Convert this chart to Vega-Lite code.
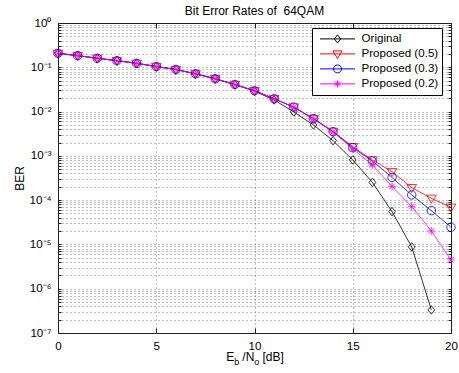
{
  "$schema": "https://vega.github.io/schema/vega-lite/v6.json",
  "width": 393,
  "height": 310,
  "autosize": {"type": "none"},
  "padding": {"left": 58, "top": 23, "right": 8, "bottom": 40},
  "background": "white",
  "config": {
    "font": "Liberation Sans",
    "view": {"stroke": null},
    "axis": {
      "labelFont": "Liberation Sans",
      "labelFontSize": 11.6,
      "labelColor": "#000",
      "titleFont": "Liberation Sans",
      "titleFontSize": 12,
      "titleFontWeight": "normal",
      "titleColor": "#000",
      "domainColor": "#222",
      "domainWidth": 1,
      "tickColor": "#222",
      "tickWidth": 1,
      "gridColor": "#000",
      "gridOpacity": 0.5,
      "gridDash": [1, 3],
      "gridWidth": 1,
      "labelOverlap": false,
      "labelFlush": false
    }
  },
  "title": {
    "text": "Bit Error Rates of \u00a064QAM",
    "font": "Liberation Sans",
    "fontSize": 12,
    "fontWeight": "normal",
    "color": "#000",
    "baseline": "alphabetic",
    "offset": -10,
    "anchor": "middle"
  },
  "data": {
    "values": [
      {"snr": 0, "ber": 0.207, "scheme": "Original"},
      {"snr": 1, "ber": 0.183, "scheme": "Original"},
      {"snr": 2, "ber": 0.160, "scheme": "Original"},
      {"snr": 3, "ber": 0.141, "scheme": "Original"},
      {"snr": 4, "ber": 0.123, "scheme": "Original"},
      {"snr": 5, "ber": 0.104, "scheme": "Original"},
      {"snr": 6, "ber": 0.0891, "scheme": "Original"},
      {"snr": 7, "ber": 0.0713, "scheme": "Original"},
      {"snr": 8, "ber": 0.0550, "scheme": "Original"},
      {"snr": 9, "ber": 0.0405, "scheme": "Original"},
      {"snr": 10, "ber": 0.0290, "scheme": "Original"},
      {"snr": 11, "ber": 0.0183, "scheme": "Original"},
      {"snr": 12, "ber": 0.0098, "scheme": "Original"},
      {"snr": 13, "ber": 0.00499, "scheme": "Original"},
      {"snr": 14, "ber": 0.0022, "scheme": "Original"},
      {"snr": 15, "ber": 0.000808, "scheme": "Original"},
      {"snr": 16, "ber": 0.000252, "scheme": "Original"},
      {"snr": 17, "ber": 0.000055, "scheme": "Original"},
      {"snr": 18, "ber": 0.0000088, "scheme": "Original"},
      {"snr": 19, "ber": 0.000000332, "scheme": "Original"},

      {"snr": 0, "ber": 0.207, "scheme": "Proposed (0.5)"},
      {"snr": 1, "ber": 0.183, "scheme": "Proposed (0.5)"},
      {"snr": 2, "ber": 0.160, "scheme": "Proposed (0.5)"},
      {"snr": 3, "ber": 0.141, "scheme": "Proposed (0.5)"},
      {"snr": 4, "ber": 0.123, "scheme": "Proposed (0.5)"},
      {"snr": 5, "ber": 0.104, "scheme": "Proposed (0.5)"},
      {"snr": 6, "ber": 0.0891, "scheme": "Proposed (0.5)"},
      {"snr": 7, "ber": 0.0713, "scheme": "Proposed (0.5)"},
      {"snr": 8, "ber": 0.0550, "scheme": "Proposed (0.5)"},
      {"snr": 9, "ber": 0.0409, "scheme": "Proposed (0.5)"},
      {"snr": 10, "ber": 0.0296, "scheme": "Proposed (0.5)"},
      {"snr": 11, "ber": 0.0195, "scheme": "Proposed (0.5)"},
      {"snr": 12, "ber": 0.0127, "scheme": "Proposed (0.5)"},
      {"snr": 13, "ber": 0.00698, "scheme": "Proposed (0.5)"},
      {"snr": 14, "ber": 0.00356, "scheme": "Proposed (0.5)"},
      {"snr": 15, "ber": 0.00161, "scheme": "Proposed (0.5)"},
      {"snr": 16, "ber": 0.000808, "scheme": "Proposed (0.5)"},
      {"snr": 17, "ber": 0.00044, "scheme": "Proposed (0.5)"},
      {"snr": 18, "ber": 0.000191, "scheme": "Proposed (0.5)"},
      {"snr": 19, "ber": 0.00011, "scheme": "Proposed (0.5)"},
      {"snr": 20, "ber": 0.0000692, "scheme": "Proposed (0.5)"},

      {"snr": 0, "ber": 0.207, "scheme": "Proposed (0.3)"},
      {"snr": 1, "ber": 0.183, "scheme": "Proposed (0.3)"},
      {"snr": 2, "ber": 0.160, "scheme": "Proposed (0.3)"},
      {"snr": 3, "ber": 0.141, "scheme": "Proposed (0.3)"},
      {"snr": 4, "ber": 0.123, "scheme": "Proposed (0.3)"},
      {"snr": 5, "ber": 0.104, "scheme": "Proposed (0.3)"},
      {"snr": 6, "ber": 0.0891, "scheme": "Proposed (0.3)"},
      {"snr": 7, "ber": 0.0713, "scheme": "Proposed (0.3)"},
      {"snr": 8, "ber": 0.0550, "scheme": "Proposed (0.3)"},
      {"snr": 9, "ber": 0.0409, "scheme": "Proposed (0.3)"},
      {"snr": 10, "ber": 0.0296, "scheme": "Proposed (0.3)"},
      {"snr": 11, "ber": 0.0195, "scheme": "Proposed (0.3)"},
      {"snr": 12, "ber": 0.0126, "scheme": "Proposed (0.3)"},
      {"snr": 13, "ber": 0.0069, "scheme": "Proposed (0.3)"},
      {"snr": 14, "ber": 0.00352, "scheme": "Proposed (0.3)"},
      {"snr": 15, "ber": 0.00153, "scheme": "Proposed (0.3)"},
      {"snr": 16, "ber": 0.000767, "scheme": "Proposed (0.3)"},
      {"snr": 17, "ber": 0.000325, "scheme": "Proposed (0.3)"},
      {"snr": 18, "ber": 0.000131, "scheme": "Proposed (0.3)"},
      {"snr": 19, "ber": 0.0000579, "scheme": "Proposed (0.3)"},
      {"snr": 20, "ber": 0.0000245, "scheme": "Proposed (0.3)"},

      {"snr": 0, "ber": 0.207, "scheme": "Proposed (0.2)"},
      {"snr": 1, "ber": 0.183, "scheme": "Proposed (0.2)"},
      {"snr": 2, "ber": 0.160, "scheme": "Proposed (0.2)"},
      {"snr": 3, "ber": 0.141, "scheme": "Proposed (0.2)"},
      {"snr": 4, "ber": 0.123, "scheme": "Proposed (0.2)"},
      {"snr": 5, "ber": 0.104, "scheme": "Proposed (0.2)"},
      {"snr": 6, "ber": 0.0891, "scheme": "Proposed (0.2)"},
      {"snr": 7, "ber": 0.0713, "scheme": "Proposed (0.2)"},
      {"snr": 8, "ber": 0.0550, "scheme": "Proposed (0.2)"},
      {"snr": 9, "ber": 0.0409, "scheme": "Proposed (0.2)"},
      {"snr": 10, "ber": 0.0296, "scheme": "Proposed (0.2)"},
      {"snr": 11, "ber": 0.0195, "scheme": "Proposed (0.2)"},
      {"snr": 12, "ber": 0.0125, "scheme": "Proposed (0.2)"},
      {"snr": 13, "ber": 0.0068, "scheme": "Proposed (0.2)"},
      {"snr": 14, "ber": 0.00345, "scheme": "Proposed (0.2)"},
      {"snr": 15, "ber": 0.00143, "scheme": "Proposed (0.2)"},
      {"snr": 16, "ber": 0.000623, "scheme": "Proposed (0.2)"},
      {"snr": 17, "ber": 0.000204, "scheme": "Proposed (0.2)"},
      {"snr": 18, "ber": 0.0000713, "scheme": "Proposed (0.2)"},
      {"snr": 19, "ber": 0.0000202, "scheme": "Proposed (0.2)"},
      {"snr": 20, "ber": 0.00000447, "scheme": "Proposed (0.2)"}
    ]
  },
  "layer": [
    {
      "mark": {"type": "line", "strokeWidth": 0.8},
      "encoding": {
        "x": {
          "field": "snr",
          "type": "quantitative",
          "scale": {"domain": [0, 20], "nice": false, "zero": false},
          "axis": {
            "orient": "bottom",
            "values": [0, 5, 10, 15, 20],
            "grid": true,
            "tickSize": -5,
            "labelPadding": 12,
            "title": "E\u2009\u2009 /N\u2009\u2009 [dB]",
            "titleY": 27,
            "titleBaseline": "alphabetic"
          }
        },
        "y": {
          "field": "ber",
          "type": "quantitative",
          "scale": {"type": "log", "domain": [1e-7, 1], "nice": false},
          "axis": {
            "orient": "left",
            "values": [1e-7, 2e-7, 3e-7, 4e-7, 5e-7, 6e-7, 7e-7, 8e-7, 9e-7, 1e-6, 2e-6, 3e-6, 4e-6, 5e-6, 6e-6, 7e-6, 8e-6, 9e-6, 1e-5, 2e-5, 3e-5, 4e-5, 5e-5, 6e-5, 7e-5, 8e-5, 9e-5, 1e-4, 2e-4, 3e-4, 4e-4, 5e-4, 6e-4, 7e-4, 8e-4, 9e-4, 0.001, 0.002, 0.003, 0.004, 0.005, 0.006, 0.007, 0.008, 0.009, 0.01, 0.02, 0.03, 0.04, 0.05, 0.06, 0.07, 0.08, 0.09, 0.1, 0.2, 0.3, 0.4, 0.5, 0.6, 0.7, 0.8, 0.9, 1],
            "grid": true,
            "tickSize": -3,
            "labelPadding": 10,
            "labelExpr": "abs(log(datum.value)/LN10 - round(log(datum.value)/LN10)) < 0.01 ? '10' + ['\u2070','\u207b\u00b9','\u207b\u00b2','\u207b\u00b3','\u207b\u2074','\u207b\u2075','\u207b\u2076','\u207b\u2077'][-round(log(datum.value)/LN10)] : ''",
            "title": "BER",
            "titleX": -34.8,
            "titleY": 155,
            "titleAngle": 270,
            "titleAlign": "center",
            "titleBaseline": "alphabetic",
            "encode": {
              "ticks": {
                "update": {
                  "x2": {"signal": "abs(log(datum.value)/LN10 - round(log(datum.value)/LN10)) < 0.01 ? 5 : 3"}
                }
              }
            }
          }
        },
        "color": {
          "field": "scheme",
          "type": "nominal",
          "scale": {
            "domain": ["Original", "Proposed (0.5)", "Proposed (0.3)", "Proposed (0.2)"],
            "range": ["#000000", "#ff0000", "#0000ff", "#ff00ff"]
          },
          "legend": null
        }
      }
    },
    {
      "mark": {"type": "point", "filled": false, "strokeWidth": 0.8, "size": 72, "opacity": 1},
      "encoding": {
        "x": {
          "field": "snr",
          "type": "quantitative",
          "scale": {"domain": [0, 20], "nice": false, "zero": false},
          "axis": {
            "orient": "top",
            "values": [0, 5, 10, 15, 20],
            "grid": false,
            "labels": false,
            "tickSize": -5,
            "title": "b\u2007\u2007\u2007o",
            "titleFontSize": 9,
            "titleX": 188.2,
            "titleY": 341,
            "titleAlign": "center",
            "titleAngle": 0,
            "titleBaseline": "alphabetic"
          }
        },
        "y": {
          "field": "ber",
          "type": "quantitative",
          "scale": {"type": "log", "domain": [1e-7, 1], "nice": false},
          "axis": {
            "orient": "right",
            "values": [1e-7, 2e-7, 3e-7, 4e-7, 5e-7, 6e-7, 7e-7, 8e-7, 9e-7, 1e-6, 2e-6, 3e-6, 4e-6, 5e-6, 6e-6, 7e-6, 8e-6, 9e-6, 1e-5, 2e-5, 3e-5, 4e-5, 5e-5, 6e-5, 7e-5, 8e-5, 9e-5, 1e-4, 2e-4, 3e-4, 4e-4, 5e-4, 6e-4, 7e-4, 8e-4, 9e-4, 0.001, 0.002, 0.003, 0.004, 0.005, 0.006, 0.007, 0.008, 0.009, 0.01, 0.02, 0.03, 0.04, 0.05, 0.06, 0.07, 0.08, 0.09, 0.1, 0.2, 0.3, 0.4, 0.5, 0.6, 0.7, 0.8, 0.9, 1],
            "grid": false,
            "labels": false,
            "tickSize": -3,
            "title": null,
            "encode": {
              "ticks": {
                "update": {
                  "x2": {"signal": "abs(log(datum.value)/LN10 - round(log(datum.value)/LN10)) < 0.01 ? -5 : -3"}
                }
              }
            }
          }
        },
        "color": {
          "field": "scheme",
          "type": "nominal",
          "scale": {
            "domain": ["Original", "Proposed (0.5)", "Proposed (0.3)", "Proposed (0.2)"],
            "range": ["#000000", "#ff0000", "#0000ff", "#ff00ff"]
          },
          "legend": null
        },
        "shape": {
          "field": "scheme",
          "type": "nominal",
          "scale": {
            "domain": ["Original", "Proposed (0.5)", "Proposed (0.3)", "Proposed (0.2)"],
            "range": [
              "M0,-1L0.8,0L0,1L-0.8,0Z",
              "M-1.15,-0.75L1.15,-0.75L0,1.15Z",
              "circle",
              "M-0.9,0H0.9M0,-0.9V0.9M-0.65,-0.65L0.65,0.65M-0.65,0.65L0.65,-0.65"
            ]
          },
          "legend": null
        }
      }
    },
    {
      "mark": {"type": "point", "filled": false, "strokeWidth": 1, "size": 1225, "opacity": 1, "clip": true},
      "encoding": {
        "x": {
          "field": "snr",
          "type": "quantitative",
          "scale": {"domain": [0, 20], "nice": false, "zero": false},
          "axis": null
        },
        "y": {
          "datum": 10,
          "type": "quantitative",
          "scale": {"type": "log", "domain": [1e-7, 1], "nice": false},
          "axis": null
        },
        "color": {
          "field": "scheme",
          "type": "nominal",
          "scale": {
            "domain": ["Original", "Proposed (0.5)", "Proposed (0.3)", "Proposed (0.2)"],
            "range": ["#000000", "#ff0000", "#0000ff", "#ff00ff"]
          },
          "legend": {
            "title": null,
            "orient": "none",
            "legendX": 254,
            "legendY": 5,
            "padding": 3.5,
            "fillColor": "#ffffff",
            "strokeColor": "#000000",
            "symbolSize": 1225,
            "symbolStrokeWidth": 1,
            "symbolOffset": 4,
            "labelOffset": 6,
            "labelFont": "Liberation Sans",
            "labelFontSize": 11.6,
            "labelColor": "#000",
            "clipHeight": 14.8,
            "rowPadding": 0,
            "labelExpr": "datum.label + '\u2002'"
          }
        },
        "shape": {
          "field": "scheme",
          "type": "nominal",
          "scale": {
            "domain": ["Original", "Proposed (0.5)", "Proposed (0.3)", "Proposed (0.2)"],
            "range": [
              "M-1,0H1M0,-0.229L0.183,0L0,0.229L-0.183,0Z",
              "M-1,0H1M-0.263,-0.171L0.263,-0.171L0,0.263Z",
              "M-1,0H1M-0.229,0A0.229,0.229,0,1,0,0.229,0A0.229,0.229,0,1,0,-0.229,0",
              "M-1,0H1M-0.206,0H0.206M0,-0.206V0.206M-0.149,-0.149L0.149,0.149M-0.149,0.149L0.149,-0.149"
            ]
          },
          "legend": {
            "title": null,
            "orient": "none",
            "legendX": 254,
            "legendY": 5,
            "padding": 3.5,
            "fillColor": "#ffffff",
            "strokeColor": "#000000",
            "symbolSize": 1225,
            "symbolStrokeWidth": 1,
            "symbolOffset": 4,
            "labelOffset": 6,
            "labelFont": "Liberation Sans",
            "labelFontSize": 11.6,
            "labelColor": "#000",
            "clipHeight": 14.8,
            "rowPadding": 0,
            "labelExpr": "datum.label + '\u2002'"
          }
        }
      }
    }
  ],
  "resolve": {
    "scale": {"color": "independent", "shape": "independent"},
    "axis": {"x": "independent", "y": "independent"},
    "legend": {"color": "independent", "shape": "independent"}
  }
}
